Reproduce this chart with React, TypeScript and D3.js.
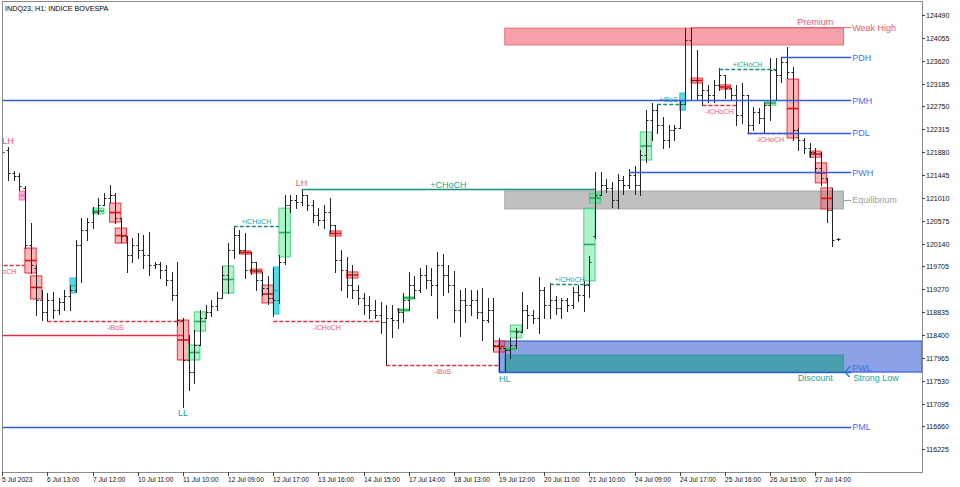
import React from "react";
import * as d3 from "d3";

// ---------- DATA ----------
const TITLE = "INDQ23, H1:  INDICE BOVESPA";

const TIME_TICKS = [
  "5 Jul 2023", "6 Jul 13:00", "7 Jul 12:00", "10 Jul 11:00", "11 Jul 10:00",
  "12 Jul 09:00", "12 Jul 17:00", "13 Jul 16:00", "14 Jul 15:00", "17 Jul 14:00",
  "18 Jul 13:00", "19 Jul 12:00", "20 Jul 11:00", "21 Jul 10:00", "24 Jul 09:00",
  "24 Jul 17:00", "25 Jul 16:00", "26 Jul 15:00", "27 Jul 14:00",
];
const BARS_PER_TICK = 8;

const PRICE_TICKS = [
  124490, 124055, 123620, 123185, 122750, 122315, 121880, 121445, 121010, 120575,
  120140, 119705, 119270, 118835, 118400, 117965, 117530, 117095, 116660, 116225,
];

const OPEN = [
  121635, 121920, 121485, 121425, 121200, 120115, 119675, 119065, 118840, 119065,
  118875, 119030, 119140, 119255, 120115, 120400, 120550, 120740, 120875, 121005,
  121065, 120625, 120285, 119920, 120115, 120020, 119920, 119730, 119750, 119635,
  119445, 119160, 118685, 117925, 117695, 118210, 118725, 118840, 118950, 119105,
  119540, 120020, 120305, 120020, 119635, 119790, 119445, 119295, 119105, 119065,
  119790, 120875, 120970, 120930, 121065, 120875, 120685, 120590, 120740, 120495,
  119825, 119635, 119350, 119255, 119105, 118970, 118875, 118780, 118645, 118725,
  118685, 118840, 119065, 119350, 119255, 119540, 119445, 119350, 119730, 119540,
  119350, 118875, 119065, 118970, 119065, 118840, 118685, 118875, 118210, 118155,
  118115, 118210, 118455, 118875, 118780, 118725, 119255, 118970, 119065, 118915,
  119065, 118970, 119220, 119160, 119350, 120285, 121065, 121255, 121200, 120970,
  121350, 121255, 121445, 121255, 121825, 122490, 122680, 122395, 122110, 122300,
  122340, 122795, 124015, 123255, 122965, 123060, 122965, 123160, 123350, 123100,
  122965, 122585, 122965, 122395, 122645, 122530, 122775, 123445, 123350, 123595,
  123405, 122300, 122110, 121960, 121885, 121580, 121390, 120780, 120225,
];
const HIGH = [
  121920, 121980, 121520, 121485, 121235, 120530, 119730, 119255, 119200, 119220,
  119105, 119255, 119350, 120210, 120625, 120625, 120835, 121005, 121100, 121255,
  121100, 120625, 120285, 120245, 120340, 120305, 120360, 119790, 119790, 119730,
  119600, 119790, 118725, 118400, 118495, 118875, 118970, 119065, 119220, 119715,
  120150, 120475, 120400, 120340, 119980, 119790, 119600, 119525, 119675, 119920,
  121065, 121065, 121065, 121180, 121065, 120970, 120815, 120875, 121005, 120495,
  120020, 119885, 119730, 119350, 119200, 119140, 119065, 119030, 118970, 118970,
  118915, 119200, 119600, 119525, 119675, 119730, 119675, 119980, 119940, 119730,
  119620, 119255, 119295, 119255, 119255, 119295, 119105, 119105, 118345, 118155,
  118345, 118535, 119220, 118970, 118875, 119505, 119315, 119390, 119140, 119105,
  119105, 119315, 119350, 119430, 119905, 121500, 121500, 121370, 121310, 121465,
  121425, 121560, 121615, 121920, 122680, 122815, 122795, 122550, 122395, 122395,
  122870, 124240, 124260, 123825, 123195, 123160, 123255, 123480, 123350, 123100,
  123160, 123195, 122965, 122740, 122720, 122815, 123670, 123670, 123690, 123880,
  123500, 122340, 122150, 122055, 121960, 121885, 121390, 121200, 120245,
];
const LOW = [
  121580, 121350, 121350, 121160, 120055, 119580, 118780, 118685, 118665, 118725,
  118800, 118875, 118875, 119220, 119410, 120210, 120435, 120705, 120875, 120930,
  120530, 120170, 119600, 119790, 119865, 119675, 119540, 119675, 119485, 119350,
  119065, 118590, 117030, 117355, 117485, 118210, 118725, 118760, 118875, 119105,
  119200, 119865, 119960, 119485, 119560, 119255, 119160, 118990, 118760, 119010,
  119750, 120740, 120815, 120875, 120780, 120550, 120495, 120435, 120360, 119600,
  119255, 119125, 119105, 118990, 118800, 118725, 118725, 118440, 117830, 118360,
  118535, 118645, 118875, 119105, 119220, 119295, 119160, 118725, 119160, 119220,
  118645, 118380, 118645, 118780, 118725, 118305, 118645, 118115, 117695, 117695,
  117960, 118155, 118455, 118535, 118630, 118440, 118725, 118725, 118800, 118725,
  118855, 118915, 119045, 118855, 119125, 120245, 121065, 121120, 120835, 120815,
  121085, 121200, 121085, 121065, 121690, 122110, 122245, 121960, 121980, 122110,
  122340, 122795, 122870, 122870, 122775, 122835, 122835, 123060, 122910, 122870,
  122395, 122435, 122245, 122300, 122435, 122245, 122490, 122870, 123215, 123290,
  122110, 121920, 121865, 121785, 121500, 121255, 120550, 120095, 120210,
];
const CLOSE = [
  121885, 121485, 121425, 121235, 120115, 119730, 119065, 118840, 119065, 118875,
  119030, 119140, 119255, 120115, 120400, 120550, 120740, 120875, 121005, 121065,
  120625, 120285, 119920, 120115, 120020, 119920, 119730, 119750, 119635, 119445,
  119160, 118685, 117925, 117695, 118210, 118725, 118840, 118950, 119105, 119540,
  120020, 120305, 120020, 119635, 119790, 119445, 119295, 119105, 119065, 119790,
  120875, 120970, 120930, 121065, 120875, 120685, 120590, 120740, 120495, 119825,
  119635, 119350, 119255, 119105, 118970, 118875, 118780, 118645, 118725, 118685,
  118840, 119065, 119350, 119255, 119540, 119445, 119350, 119730, 119540, 119350,
  118875, 119065, 118970, 119065, 118840, 118685, 118875, 118210, 118155, 118115,
  118210, 118455, 118875, 118780, 118725, 119255, 118970, 119065, 118915, 119065,
  118970, 119220, 119160, 119350, 119790, 121065, 121255, 121200, 120970, 121350,
  121255, 121445, 121255, 121825, 122490, 122680, 122395, 122110, 122300, 122340,
  122795, 124015, 123255, 122965, 123060, 122965, 123160, 123350, 123100, 122965,
  122585, 122965, 122395, 122645, 122530, 122775, 123445, 123350, 123595, 123405,
  122300, 122110, 121960, 121885, 121580, 121390, 120780, 120210, 120225,
];

// order-block style boxes: [fromBar, toBar, top, bottom, kind]
const BOXES: [number, number, number, number, string][] = [
  [3, 4, 121140, 120970, "pink"],
  [4, 6, 120055, 119580, "red"],
  [5, 7, 119525, 119085, "red"],
  [12, 13, 119485, 119200, "cyan"],
  [16, 18, 120815, 120705, "green"],
  [19, 21, 120910, 120550, "red"],
  [20, 22, 120435, 120150, "red"],
  [31, 33, 118685, 117925, "red"],
  [33, 35, 118210, 117925, "green"],
  [34, 36, 118840, 118475, "green"],
  [39, 41, 119715, 119200, "green"],
  [42, 44, 120000, 119940, "red"],
  [44, 46, 119655, 119580, "red"],
  [46, 48, 119350, 119010, "red"],
  [48, 49, 119695, 118800, "cyan"],
  [49, 51, 120815, 119885, "green"],
  [58, 60, 120380, 120285, "red"],
  [61, 63, 119600, 119485, "red"],
  [70, 72, 118895, 118855, "green"],
  [71, 73, 119125, 119085, "green"],
  [87, 89, 118285, 118075, "red"],
  [89, 91, 118155, 118115, "green"],
  [90, 92, 118590, 118345, "green"],
  [103, 105, 120815, 119430, "green"],
  [104, 106, 121100, 120910, "green"],
  [113, 115, 122265, 121730, "green"],
  [120, 121, 123005, 122680, "cyan"],
  [122, 124, 123290, 123195, "red"],
  [127, 129, 123160, 123080, "red"],
  [135, 137, 122855, 122775, "green"],
  [139, 141, 123270, 122150, "red"],
  [143, 145, 121900, 121785, "red"],
  [144, 146, 121675, 121295, "red"],
  [145, 147, 121200, 120800, "red"],
];

// structure breaks: [fromBar, toBar, price, side, dashed, label]
const BREAKS: [number, number, number, string, boolean, string][] = [
  [-4, 4, 119730, "bear", true, "-iCHoCH"],
  [-2, 32, 118400, "bear", false, ""],
  [8, 32, 118665, "bear", true, "-iBoS"],
  [41, 49, 120475, "bull", true, "+iCHoCH"],
  [48, 67, 118665, "bear", true, "-iCHoCH"],
  [53, 105, 121180, "bull", false, "+CHoCH"],
  [68, 88, 117830, "bear", true, "-iBoS"],
  [97, 104, 119370, "bull", true, "+iCHoCH"],
  [116, 120, 122795, "bull", true, "+iBoS"],
  [124, 130, 122775, "bear", true, "-iCHoCH"],
  [127, 137, 123460, "bull", true, "+iCHoCH"],
  [132, 140, 122245, "bear", true, "-iCHoCH"],
];

// swing points: [bar, text, side(above/below)]
const SWINGS: [number, string, string][] = [
  [1, "LH", "above"],
  [32, "LL", "below"],
  [53, "LH", "above"],
  [89, "HL", "below"],
];

// key levels: [name, price, fromBar, kind, labelShift]
const LEVELS: [string, number, number, string, number][] = [
  ["Weak High", 124260, 122, "weak", 0],
  ["PDH", 123690, 138, "blue", 0],
  ["PMH", 122870, -2, "blue", 0],
  ["PDL", 122245, 132, "blue", 0],
  ["PWH", 121500, 111, "blue", 0],
  ["PWL", 117695, 88, "blue", -5],
  ["PML", 116650, -2, "blue", 0],
];

// zones: [fromBar, toBar, top, bottom]
const PREMIUM = [89, 149, 124240, 123920];
const EQUILIBRIUM = [89, 149, 121140, 120800];
const DISCOUNT = [89, 149, 118020, 117695];
const STRONG_LOW_ZONE = [88, 118285, 117695];
const ZONE_LABEL_BAR = 144;
const LABEL_BAR = 150;

// ---------- STYLE ----------
const FONT = "'Liberation Sans', Arial, sans-serif";
const BEAR_TXT = "#e65a70";
const BEAR_LN = "#e2304a";
const BULL_TXT = "#22a494";
const BULL_LN = "#178f7e";
const BLUE = "#2f5ed6";
const BLUE_TXT = "#4570e0";
const BOX_STYLE: Record<string, { fill: string; stroke: string; mid: string }> = {
  red: { fill: "rgba(238,80,88,0.42)", stroke: "#e3343e", mid: "#d41414" },
  green: { fill: "rgba(70,232,140,0.45)", stroke: "#45d47f", mid: "#1fb05c" },
  cyan: { fill: "rgba(40,210,225,0.8)", stroke: "#22c2d2", mid: "#22c2d2" },
  pink: { fill: "rgba(246,120,190,0.6)", stroke: "#f070b4", mid: "#f070b4" },
};

export default function App() {
  const W = 960, Hh = 487;
  const plotL = 2, plotR = 922, plotT = 2, plotB = 472;
  const x = d3.scaleLinear().domain([0, 144]).range([2.3, 815.3]);
  const y = d3.scaleLinear().domain([116225, 124490]).range([449.3, 15]);
  const px = (i: number) => Math.round(x(i)) + 0.5;
  const py = (p: number) => Math.round(y(p)) + 0.5;
  const labelX = x(LABEL_BAR) + 2;

  const box = (from: number, to: number, top: number, bot: number) => ({
    x: x(from), y: y(top), w: x(to) - x(from), h: y(bot) - y(top),
  });

  const pr = box(PREMIUM[0], PREMIUM[1], PREMIUM[2], PREMIUM[3]);
  const eq = box(EQUILIBRIUM[0], EQUILIBRIUM[1], EQUILIBRIUM[2], EQUILIBRIUM[3]);
  const dc = box(DISCOUNT[0], DISCOUNT[1], DISCOUNT[2], DISCOUNT[3]);
  const sl = { x: x(STRONG_LOW_ZONE[0]), y: y(STRONG_LOW_ZONE[1]), w: plotR - x(STRONG_LOW_ZONE[0]), h: y(STRONG_LOW_ZONE[2]) - y(STRONG_LOW_ZONE[1]) };
  const pwlY = y(STRONG_LOW_ZONE[2]);
  const zEnd = x(PREMIUM[1]);
  const eqMid = (EQUILIBRIUM[2] + EQUILIBRIUM[3]) / 2;

  return (
    <svg width={W} height={Hh} style={{ position: "absolute", left: 0, top: 0, background: "#fff" }} fontFamily={FONT}>
      <defs>
        <clipPath id="plot"><rect x={plotL} y={plotT} width={plotR - plotL} height={plotB - plotT} /></clipPath>
      </defs>
      <rect x={0} y={0} width={W} height={Hh} fill="#fff" />
      <g clipPath="url(#plot)">
        {/* zones */}
        <rect x={sl.x} y={sl.y} width={sl.w} height={sl.h} fill="#8ca1e6" stroke="#3a62d6" strokeWidth={1.2} />
        <rect x={dc.x} y={dc.y} width={dc.w} height={dc.h} fill="#489fae" stroke="#3f95a3" strokeWidth={1} />
        <rect x={eq.x} y={eq.y} width={eq.w} height={eq.h} fill="#c0c0c0" stroke="#a8a8a8" strokeWidth={1} />
        <rect x={pr.x} y={pr.y} width={pr.w} height={pr.h} fill="#f6a0a9" stroke="#e2707c" strokeWidth={1} />

        {/* boxes */}
        {BOXES.map(([a, b, t, bo, k], i) => {
          const r = box(a, b, t, bo);
          const s = BOX_STYLE[k];
          const my = (y(t) + y(bo)) / 2;
          return (
            <g key={"b" + i}>
              <rect x={r.x} y={r.y} width={r.w} height={Math.max(r.h, 2)} fill={s.fill} stroke={s.stroke} strokeWidth={1} />
              <line x1={r.x} x2={r.x + r.w} y1={my} y2={my} stroke={s.mid} strokeWidth={1.6} />
            </g>
          );
        })}

        {/* OHLC bars */}
        {OPEN.map((o, i) => {
          const cx = px(i);
          return (
            <g key={"k" + i} stroke="#222" strokeWidth={1}>
              <line x1={cx} x2={cx} y1={Math.round(y(HIGH[i]))} y2={Math.round(y(LOW[i])) + 1} />
              <line x1={cx - 2} x2={cx} y1={py(o)} y2={py(o)} />
              <line x1={cx} x2={cx + 2} y1={py(CLOSE[i])} y2={py(CLOSE[i])} />
            </g>
          );
        })}

        {/* structure breaks */}
        {BREAKS.map(([a, b, p, side, dashed, lab], i) => {
          const yy = py(p);
          const bull = side === "bull";
          const big = lab === "+CHoCH";
          return (
            <g key={"s" + i}>
              <line x1={x(a)} x2={x(b)} y1={yy} y2={yy} stroke={bull ? BULL_LN : BEAR_LN}
                strokeWidth={dashed ? 1.3 : 1.4} strokeDasharray={dashed ? "4,2" : undefined} />
              {lab && (
                <text x={(x(a) + x(b)) / 2} y={yy + (bull ? -5 : 6)} fontSize={big ? 9 : 7}
                  textAnchor="middle" dominantBaseline="central" fill={bull ? BULL_TXT : BEAR_TXT}>{lab}</text>
              )}
            </g>
          );
        })}

        {/* key levels */}
        {LEVELS.map(([name, p, from, kind], i) => {
          const yy = py(p);
          return (
            <line key={"l" + i} x1={x(from)} x2={labelX} y1={yy} y2={yy}
              stroke={kind === "weak" ? "#e8667a" : BLUE} strokeWidth={kind === "weak" ? 1.2 : 1.6} />
          );
        })}
        <line x1={zEnd} x2={labelX} y1={py(eqMid)} y2={py(eqMid)} stroke="#a0a0a0" strokeWidth={1.2} />
        <polyline points={`${zEnd + 7},${pwlY - 6} ${zEnd + 1.5},${pwlY} ${zEnd + 6},${pwlY + 5}`} fill="none" stroke="#2f7fc0" strokeWidth={1.5} />

        {/* swing labels */}
        {SWINGS.map(([i, t, pos], k) => (
          <text key={"w" + k} x={x(i)} y={pos === "above" ? y(HIGH[i]) - 6 : y(LOW[i]) + 6.5} fontSize={9}
            textAnchor="middle" dominantBaseline="central" fill={t[1] === "H" ? BEAR_TXT : BULL_TXT}>{t}</text>
        ))}

        {/* level labels */}
        {LEVELS.map(([name, p, , kind, shift], i) => (
          <text key={"lt" + i} x={labelX + 1} y={y(p) + shift + 0.5} fontSize={9} dominantBaseline="central"
            fill={kind === "weak" ? BEAR_TXT : BLUE_TXT}>{name}</text>
        ))}
        <text x={labelX + 1} y={y(eqMid) + 0.5} fontSize={9} dominantBaseline="central" fill="#a0a0a0">Equilibrium</text>
        <text x={labelX + 2} y={pwlY + 6} fontSize={9} dominantBaseline="central" fill={BULL_TXT}>Strong Low</text>
        <text x={x(ZONE_LABEL_BAR)} y={y(PREMIUM[2]) - 6.5} fontSize={9} textAnchor="middle" dominantBaseline="central" fill={BEAR_TXT}>Premium</text>
        <text x={x(ZONE_LABEL_BAR)} y={y(DISCOUNT[3]) + 6} fontSize={9} textAnchor="middle" dominantBaseline="central" fill={BULL_TXT}>Discount</text>

        <text x={5} y={8} fontSize={7.2} dominantBaseline="central" fill="#000">{TITLE}</text>
      </g>

      {/* frame and axes */}
      <line x1={plotL} x2={plotR} y1={1.5} y2={1.5} stroke="#8a8a8a" />
      <line x1={2.5} x2={2.5} y1={1} y2={plotB} stroke="#8a8a8a" />
      <line x1={plotR + 0.5} x2={plotR + 0.5} y1={1} y2={plotB + 1} stroke="#8a8a8a" />
      <line x1={plotL} x2={plotR + 1} y1={plotB + 0.5} y2={plotB + 0.5} stroke="#8a8a8a" />

      {PRICE_TICKS.map((p) => {
        const yy = py(p);
        return (
          <g key={"p" + p}>
            <line x1={plotR} x2={plotR + 3} y1={yy} y2={yy} stroke="#444" />
            <text x={plotR + 4} y={yy} fontSize={7} dominantBaseline="central" fill="#111">{p}</text>
          </g>
        );
      })}
      {TIME_TICKS.map((t, k) => {
        const xx = px(k * BARS_PER_TICK);
        return (
          <g key={"t" + k}>
            <line x1={xx} x2={xx} y1={plotB} y2={plotB + 4} stroke="#444" />
            <text x={xx - 0.5} y={479.5} fontSize={6.6} dominantBaseline="central" fill="#111">{t}</text>
          </g>
        );
      })}
    </svg>
  );
}
